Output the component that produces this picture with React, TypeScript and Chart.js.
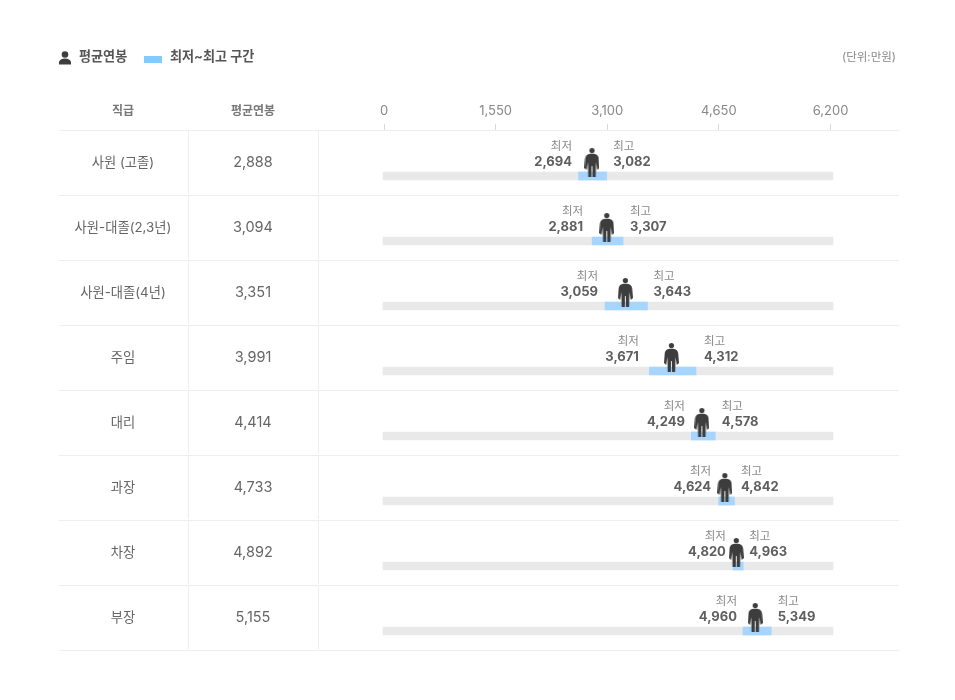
import React, { useEffect, useRef } from "react";
import { Chart, registerables } from "chart.js";

Chart.register(...registerables);

const grades = ["사원 (고졸)", "사원-대졸(2,3년)", "사원-대졸(4년)", "주임", "대리", "과장", "차장", "부장"];
const avgPay = [2888, 3094, 3351, 3991, 4414, 4733, 4892, 5155];
const minPay = [2694, 2881, 3059, 3671, 4249, 4624, 4820, 4960];
const maxPay = [3082, 3307, 3643, 4312, 4578, 4842, 4963, 5349];
const axisTicks = [0, 1550, 3100, 4650, 6200];

// gap in px between the blue band and its labels, row by row
const minLabelGap = [6.5, 9, 7, 10.5, 6.5, 7.5, 7, 6];
const maxLabelGap = [6.5, 7, 6, 8, 6.5, 6.5, 6, 6.5];

const FONT = 'Inter, "Noto Sans CJK KR", sans-serif';
const fmt = (n: number) => n.toLocaleString("en-US");

// person icon used as the point style of the average series
function makePerson() {
  const c = document.createElement("canvas");
  c.width = 15;
  c.height = 29;
  const g = c.getContext("2d")!;
  g.fillStyle = "#3d3d3d";
  g.beginPath();
  g.arc(7.5, 2.6, 2.6, 0, Math.PI * 2);
  g.fill();
  g.beginPath();
  g.moveTo(5.5, 5.8);
  g.lineTo(9.5, 5.8);
  g.quadraticCurveTo(13.4, 6.2, 14.2, 10);
  g.lineTo(15, 20);
  g.lineTo(12.8, 22);
  g.lineTo(11.6, 14);
  g.lineTo(11.2, 29);
  g.lineTo(8.1, 29);
  g.lineTo(7.9, 18);
  g.lineTo(7.1, 18);
  g.lineTo(6.9, 29);
  g.lineTo(3.8, 29);
  g.lineTo(3.4, 14);
  g.lineTo(2.2, 22);
  g.lineTo(0, 20);
  g.lineTo(0.8, 10);
  g.quadraticCurveTo(1.6, 6.2, 5.5, 5.8);
  g.closePath();
  g.fill();
  return c;
}

const tablePlugin = {
  id: "table",
  beforeDatasetsDraw(chart: any) {
    const { ctx, scales } = chart;
    const y = scales.y;
    ctx.save();
    ctx.strokeStyle = "#eeeeee";
    ctx.lineWidth = 1;
    for (let i = 0; i <= grades.length; i++) {
      const py = Math.round(y.getPixelForValue(i)) + 0.5;
      ctx.beginPath();
      ctx.moveTo(59, py);
      ctx.lineTo(899, py);
      ctx.stroke();
    }
    for (let i = 0; i < grades.length; i++) {
      const top = Math.round(y.getPixelForValue(i));
      [188.5, 318.5].forEach((px) => {
        ctx.beginPath();
        ctx.moveTo(px, top + 1);
        ctx.lineTo(px, top + 64);
        ctx.stroke();
      });
    }
    ctx.restore();
  },
  afterDatasetsDraw(chart: any) {
    const { ctx, scales } = chart;
    const { x, y } = scales;
    ctx.save();
    ctx.textBaseline = "middle";

    // legend
    ctx.fillStyle = "#3d3d3d";
    ctx.beginPath();
    ctx.arc(65, 54.5, 3.3, 0, Math.PI * 2);
    ctx.fill();
    ctx.beginPath();
    ctx.moveTo(59, 64.5);
    ctx.lineTo(59, 62);
    ctx.quadraticCurveTo(60, 58.5, 65, 58.5);
    ctx.quadraticCurveTo(70, 58.5, 71, 62);
    ctx.lineTo(71, 64.5);
    ctx.closePath();
    ctx.fill();
    ctx.fillStyle = "#80ccff";
    ctx.fillRect(144, 56, 18, 7);
    ctx.fillStyle = "#555555";
    ctx.font = `bold 13.1px ${FONT}`;
    ctx.textAlign = "left";
    ctx.fillText("평균연봉", 79, 57.5);
    ctx.fillText("최저~최고 구간", 170, 57.5);
    ctx.fillStyle = "#888888";
    ctx.font = `11.5px ${FONT}`;
    ctx.textAlign = "right";
    ctx.fillText("(단위:만원)", 896, 57.5);

    // table header
    ctx.textAlign = "center";
    ctx.fillStyle = "#777777";
    ctx.font = `bold 12px ${FONT}`;
    ctx.fillText("직급", 123, 111);
    ctx.fillText("평균연봉", 253, 111);

    grades.forEach((name, i) => {
      const mid = y.getPixelForValue(i + 0.5);
      ctx.textAlign = "center";
      ctx.fillStyle = "#666666";
      ctx.font = `13.3px ${FONT}`;
      ctx.fillText(name, 123, mid);
      ctx.font = `14.5px ${FONT}`;
      ctx.fillText(fmt(avgPay[i]), 253, mid);

      const left = x.getPixelForValue(minPay[i]) - minLabelGap[i];
      const right = x.getPixelForValue(maxPay[i]) + maxLabelGap[i];
      ctx.font = `11.5px ${FONT}`;
      ctx.fillStyle = "#888888";
      ctx.textAlign = "right";
      ctx.fillText("최저", left, mid - 16);
      ctx.textAlign = "left";
      ctx.fillText("최고", right, mid - 16);
      ctx.font = `bold 13px ${FONT}`;
      ctx.fillStyle = "#5f5f5f";
      ctx.textAlign = "right";
      ctx.fillText(fmt(minPay[i]), left, mid);
      ctx.textAlign = "left";
      ctx.fillText(fmt(maxPay[i]), right, mid);
    });
    ctx.restore();
  },
};

const App: React.FC = () => {
  const canvasRef = useRef<HTMLCanvasElement | null>(null);

  useEffect(() => {
    const ctx = canvasRef.current?.getContext("2d");
    if (!ctx) return;
    const person = makePerson();
    const bandRow = (i: number) => i + 0.708;

    const chart = new Chart(ctx, {
      type: "bar",
      data: {
        datasets: [
          {
            type: "scatter",
            xAxisID: "tickX",
            yAxisID: "y",
            data: avgPay.map((v, i) => ({ x: v, y: i + 0.5 })),
            pointStyle: person,
            pointRadius: 8,
            order: 0,
            clip: false,
          },
          {
            indexAxis: "y",
            xAxisID: "x",
            yAxisID: "y",
            data: minPay.map((v, i) => ({ x: [v, maxPay[i]], y: bandRow(i) })),
            backgroundColor: "#a6d5ff",
            barThickness: 8,
            grouped: false,
            order: 1,
            clip: false,
          },
          {
            indexAxis: "y",
            xAxisID: "x",
            yAxisID: "y",
            data: grades.map((_, i) => ({ x: [0, 6200], y: bandRow(i) })),
            backgroundColor: "#e9e9e9",
            barThickness: 8,
            grouped: false,
            order: 2,
            clip: false,
          },
        ] as any,
      },
      options: {
        responsive: false,
        animation: false,
        layout: { padding: { left: 383, right: 122, top: 0, bottom: 50 } },
        plugins: { legend: { display: false }, tooltip: { enabled: false } },
        scales: {
          x: { type: "linear", min: 0, max: 6200, display: false, offset: false, grid: { offset: false } },
          // visible axis sits a little inside the band scale, as in the reference
          tickX: {
            type: "linear",
            axis: "x",
            position: "top",
            offset: false,
            min: -14,
            max: 6235,
            afterBuildTicks: (axis: any) => {
              axis.ticks = axisTicks.map((value) => ({ value }));
            },
            afterFit: (axis: any) => {
              axis.height = 130;
            },
            border: { display: false },
            grid: { offset: false, drawOnChartArea: false, drawTicks: true, tickLength: 6, tickColor: "#d8d8d8" },
            ticks: {
              autoSkip: false,
              maxRotation: 0,
              padding: 5,
              color: "#888888",
              font: { family: FONT, size: 13 },
              callback: (v: any) => fmt(Number(v)),
            },
          },
          y: { type: "linear", min: 0, max: 8, reverse: true, display: false, offset: false, grid: { offset: false } },
        } as any,
      },
      plugins: [tablePlugin],
    });

    return () => {
      chart.destroy();
    };
  }, []);

  return (
    <div style={{ position: "absolute", left: 0, top: 0, width: 955, height: 700, background: "#fff" }}>
      <canvas ref={canvasRef} width={955} height={700} style={{ display: "block" }}></canvas>
    </div>
  );
};

export default App;
